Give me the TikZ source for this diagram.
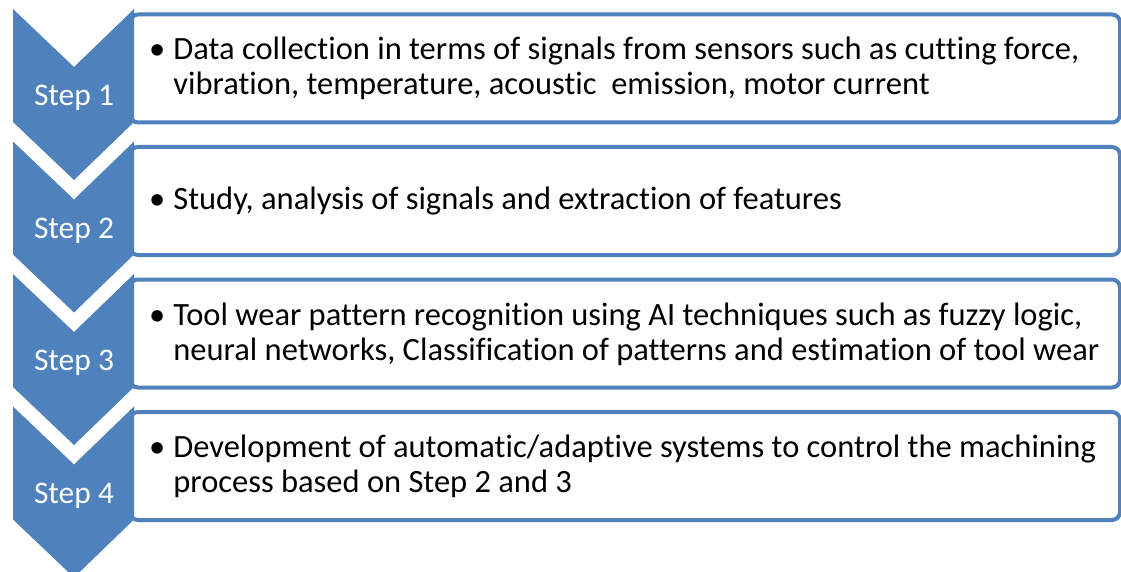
\documentclass[tikz,border=0pt]{standalone}
\usepackage{fontspec}
\setmainfont{Carlito}[Ligatures=NoCommon]
\usetikzlibrary{positioning, calc}
\definecolor{StepBlue}{HTML}{4F81BD}

\tikzset{
  chevron/.style={fill=StepBlue, draw=none},
  stepbox/.style={draw=StepBlue, line width=4pt, fill=white, rounded corners=8pt,
    minimum width=990pt, minimum height=108pt, anchor=north west, inner sep=0pt},
  steplabel/.style={text=white, font=\fontsize{31.5}{37}\selectfont, inner sep=0pt},
  bodytext/.style={font=\fontsize{32.5}{35}\selectfont, anchor=west, inner sep=0pt}
}
\newcommand{\bulletlines}[1]{%
  \begin{tabular}{@{}l@{\hspace{8pt}}l@{}}\textbullet & #1\end{tabular}}

\begin{document}
\begin{tikzpicture}[x=1pt, y=-1pt]
    \useasboundingbox (0,0) rectangle (1121,572);
    % Boxes and chevrons
    \foreach \k/\lab in {1/Step 1, 2/Step 2, 3/Step 3, 4/Step 4} {
        \pgfmathsetmacro{\t}{9+132.5*(\k-1)}
        \node[stepbox] (box\k) at (128,\t+3.5) {};
        \fill[chevron] (13,\t) -- (74,\t+58) -- (134,\t) -- (134,\t+113)
            -- (74,\t+171) -- (13,\t+113) -- cycle;
        \node[steplabel] (step\k) at (74,\t+89) {\lab};
    }
    % Texts
    \node[bodytext] (text1) at ($(box1.west)+(21,2)$)
        {\bulletlines{Data collection in terms of signals from sensors such as cutting force,\\
        & vibration, temperature, acoustic\ \ emission, motor current}};
    \node[bodytext] (text2) at ($(box2.west)+(21,2)$)
        {\bulletlines{Study, analysis of signals and extraction of features}};
    \node[bodytext] (text3) at ($(box3.west)+(21,2)$)
        {\bulletlines{Tool wear pattern recognition using AI techniques such as fuzzy logic,\\
        & neural networks, Classification of patterns and estimation of tool wear}};
    \node[bodytext] (text4) at ($(box4.west)+(21,2)$)
        {\bulletlines{Development of automatic/adaptive systems to control the machining\\
        & process based on Step 2 and 3}};
\end{tikzpicture}
\end{document}
